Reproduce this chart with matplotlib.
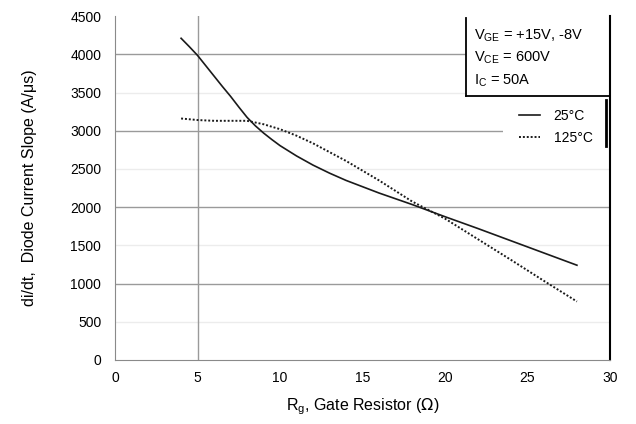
import matplotlib.pyplot as plt
from matplotlib.patches import Rectangle

plt.rcParams['font.family'] = ['Liberation Sans', 'DejaVu Sans']

# gate resistance (ohm) and di/dt readings (A/us)
rg_25 = [4, 4.5, 5, 5.5, 6, 6.5, 7, 7.5, 8, 8.5, 9, 9.5, 10, 11, 12, 13, 14, 16, 18, 20, 22, 24, 26, 28]
didt_25 = [4210, 4100, 3985, 3850, 3715, 3580, 3450, 3310, 3175, 3065, 2970, 2885, 2805, 2670, 2550,
           2445, 2350, 2185, 2035, 1875, 1720, 1560, 1400, 1240]
rg_125 = [4, 5, 6, 7, 8, 9, 10, 11, 12, 14, 16, 18, 20, 22, 24, 26, 28]
didt_125 = [3160, 3140, 3130, 3130, 3130, 3085, 3020, 2935, 2835, 2605, 2350, 2075, 1850, 1580, 1310,
            1035, 765]

y_major = [1000, 2000, 3000, 4000]
y_minor = [500, 1500, 2500, 3500]
y_ticks = list(range(0, 4501, 500))
x_ticks = [0, 5, 10, 15, 20, 25, 30]

fig = plt.figure(figsize=(6.36, 4.24), dpi=100)
ax = fig.add_axes([0.181, 0.151, 0.778, 0.811])

for y in y_minor:
    ax.axhline(y, color='#ececec', lw=1.0, zorder=1)
for y in y_major:
    ax.axhline(y, color='#9a9a9a', lw=1.0, zorder=1)
ax.axvline(5, color='#9a9a9a', lw=1.0, zorder=1)

ax.plot(rg_25, didt_25, color='#1a1a1a', lw=1.2, label='25°C', zorder=3)
ax.plot(rg_125, didt_125, color='#1a1a1a', lw=1.4, ls=(0, (1, 1)), label='125°C', zorder=3)

ax.set_xlim(0, 30)
ax.set_ylim(0, 4500)
ax.set_xticks(x_ticks)
ax.set_yticks(y_ticks)
ax.tick_params(length=0, labelsize=10, pad=8)
ax.tick_params(axis='y', pad=10)

ax.spines['top'].set_visible(False)
ax.spines['left'].set_color('#8a8a8a')
ax.spines['bottom'].set_color('#8a8a8a')
ax.spines['right'].set_color('black')
ax.spines['right'].set_linewidth(1.5)

# conditions box in the upper right corner
bx, by = 21.3, 3450
ax.add_patch(Rectangle((bx, by), 30 - bx, 4500 - by, facecolor='white', edgecolor='none', zorder=2))
ax.plot([bx, bx], [by, 4480], color='black', lw=1.3, zorder=4)
ax.plot([bx, 30], [by, by], color='black', lw=1.3, zorder=4)
ax.text(21.75, 4250, r'V$_{\mathregular{GE}}$ = +15V, -8V', fontsize=10.5, va='center', zorder=5)
ax.text(21.75, 3950, r'V$_{\mathregular{CE}}$ = 600V', fontsize=10.5, va='center', zorder=5)
ax.text(21.75, 3660, r'I$_{\mathregular{C}}$ = 50A', fontsize=10.5, va='center', zorder=5)

# white backing behind the legend, with a bar on its right side
ax.add_patch(Rectangle((0.784, 0.622), 0.216, 0.134, transform=ax.transAxes,
                       facecolor='white', edgecolor='none', zorder=2))
leg = ax.legend(loc='upper right', bbox_to_anchor=(0.965, 0.73), frameon=False, fontsize=10,
                handlelength=1.5, handletextpad=1.0, borderpad=0, labelspacing=0.55,
                borderaxespad=0)
leg.set_zorder(5)
ax.plot([0.992, 0.992], [0.622, 0.756], color='black', lw=2, transform=ax.transAxes,
        clip_on=False, zorder=6)

ax.set_xlabel(r'R$_{\mathregular{g}}$, Gate Resistor ($\Omega$)', fontsize=11.5, labelpad=8)
ax.set_ylabel('di/dt,  Diode Current Slope (A/\u03bcs)', fontsize=11.5, labelpad=24)

fig.savefig('out.png', dpi=100)
